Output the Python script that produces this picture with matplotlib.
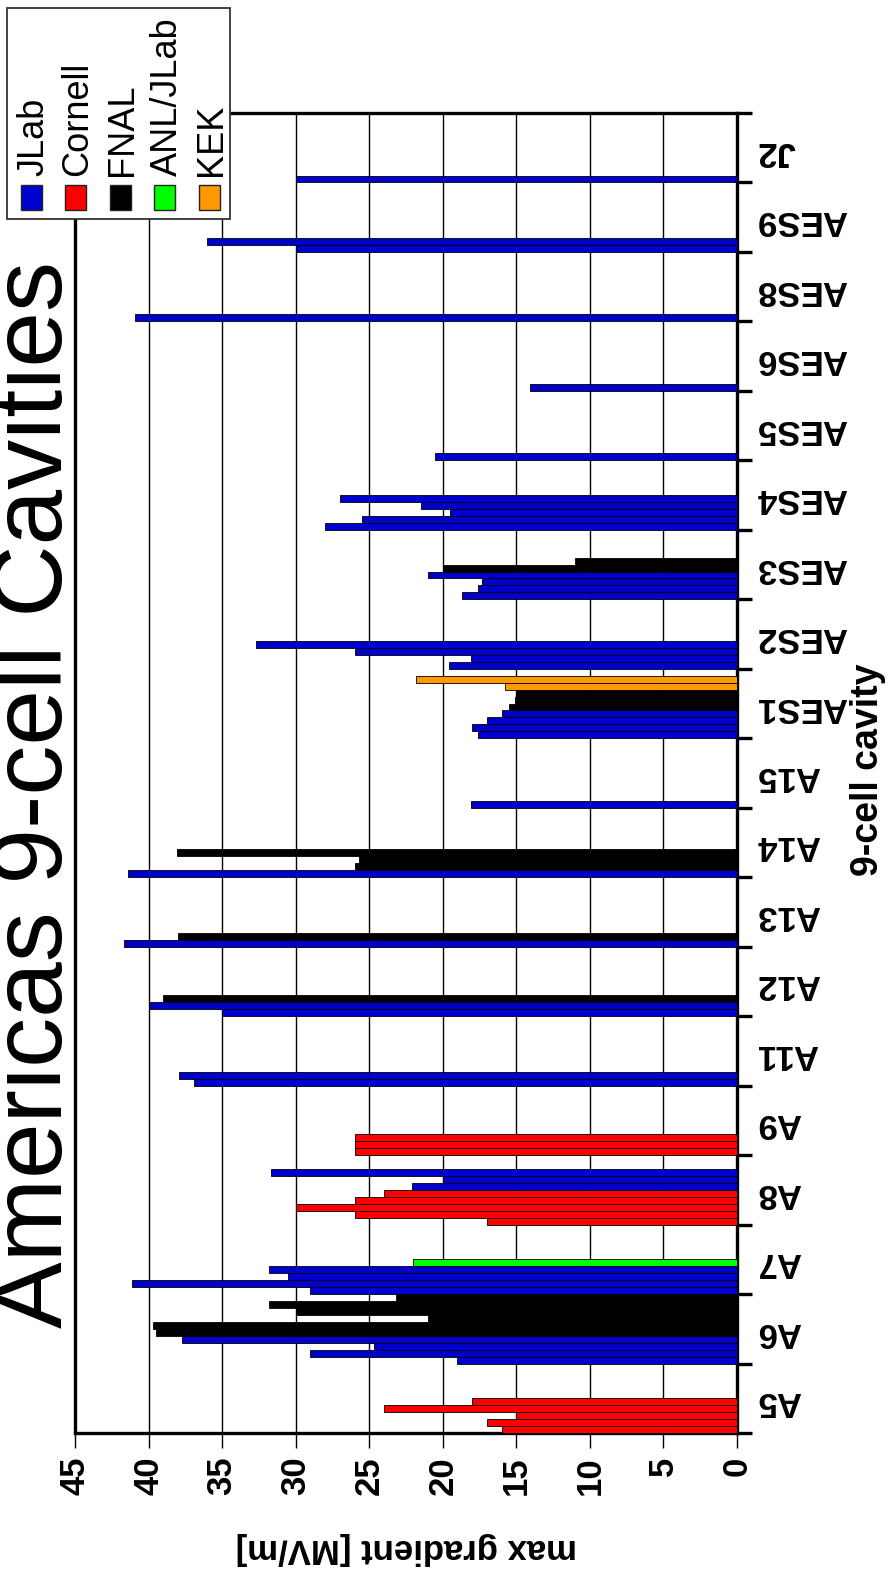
import matplotlib
matplotlib.use("Agg")
import matplotlib.pyplot as plt
from matplotlib.patches import Rectangle
import numpy as np

plt.rcParams['font.family'] = ['Liberation Sans', 'DejaVu Sans']

# ---------------- data ----------------
categories = ["A5", "A6", "A7", "A8", "A9", "A11", "A12", "A13", "A14", "A15",
              "AES1", "AES2", "AES3", "AES4", "AES5", "AES6", "AES8", "AES9", "J2"]

# max gradient [MV/m] for each test, in slot order (bottom -> top within category)
A5 = [16.0, 17.0, 15.0, 24.0, 18.0]
A6 = [19.0, 29.0, 24.7, 37.7, 39.5, 39.7, 21.0, 30.0, 31.8, 23.2]
A7 = [29.0, 41.1, 30.5, 31.8, 22.0]
A8 = [17.0, 26.0, 30.0, 26.0, 24.0, 22.1, 20.0, 31.7]
A9 = [26.0, 26.0, 26.0]
A11 = [36.9, 37.9]
A12 = [35.0, 39.9, 39.0]
A13 = [41.7, 38.0]
A14 = [41.4, 26.0, 25.7, 38.1]
A15 = [18.1]
AES1 = [17.6, 18.0, 17.0, 16.0, 15.5, 15.1, 15.0, 15.8, 21.8]
AES2 = [19.6, 18.1, 26.0, 32.7]
AES3 = [18.7, 17.6, 17.3, 21.0, 20.0, 11.0]
AES4 = [28.0, 25.5, 19.5, 21.5, 27.0]
AES5 = [20.5]
AES6 = [14.1]
AES8 = [40.9]
AES9 = [30.0, 36.0]
J2 = [30.0]

# lab of each test: J=JLab, C=Cornell, F=FNAL, A=ANL/JLab, K=KEK
A5_lab = "CCCCC"
A6_lab = "JJJJFFFFFF"
A7_lab = "JJJJA"
A8_lab = "CCCCCJJJ"
A9_lab = "CCC"
A11_lab = "JJ"
A12_lab = "JJF"
A13_lab = "JF"
A14_lab = "JFFF"
A15_lab = "J"
AES1_lab = "JJJJFFFKK"
AES2_lab = "JJJJ"
AES3_lab = "JJJJFF"
AES4_lab = "JJJJJ"
AES5_lab = "J"
AES6_lab = "J"
AES8_lab = "J"
AES9_lab = "JJ"
J2_lab = "J"

lab_codes = ["J", "C", "F", "A", "K"]
lab_names = ["JLab", "Cornell", "FNAL", "ANL/JLab", "KEK"]
lab_colors = ["#0000CC", "#FF0000", "#000000", "#00FF00", "#FF9900"]

value_ticks = [0, 5, 10, 15, 20, 25, 30, 35, 40, 45]

cavity_values = [A5, A6, A7, A8, A9, A11, A12, A13, A14, A15,
                 AES1, AES2, AES3, AES4, AES5, AES6, AES8, AES9, J2]
cavity_labs = [A5_lab, A6_lab, A7_lab, A8_lab, A9_lab, A11_lab, A12_lab, A13_lab,
               A14_lab, A15_lab, AES1_lab, AES2_lab, AES3_lab, AES4_lab, AES5_lab,
               AES6_lab, AES8_lab, AES9_lab, J2_lab]

SLOTS = 10
color_of = dict(zip(lab_codes, lab_colors))

# ---------------- figure ----------------
W, H = 888, 1576
fig = plt.figure(figsize=(W / 100, H / 100), dpi=100)
fig.patch.set_facecolor("white")

def fx(px):
    return px / W

def fy(py):
    return 1 - py / H

ax_l, ax_r, ax_t, ax_b = 75, 737, 113, 1433
ax = fig.add_axes([fx(ax_l), fy(ax_b), fx(ax_r - ax_l), (ax_b - ax_t) / H])

for i, (vals, labs) in enumerate(zip(cavity_values, cavity_labs)):
    ys = i + (np.arange(len(vals)) + 0.5) / SLOTS
    cols = [color_of[c] for c in labs]
    ax.barh(ys, vals, height=1.0 / SLOTS, color=cols, edgecolor="black",
            linewidth=0.6, zorder=3)

ax.set_xlim(45, 0)
ax.set_ylim(0, len(categories))

ax.set_xticks(value_ticks)
ax.set_xticklabels([str(v) for v in value_ticks], fontsize=25, fontweight="bold",
                   rotation=90)
ax.tick_params(axis="x", direction="out", length=11, width=1.0, pad=6, color="black")
ax.grid(axis="x", color="black", linewidth=1.0, zorder=0)
ax.set_axisbelow(True)

ax.yaxis.tick_right()
ax.set_yticks(np.arange(len(categories) + 1))
ax.set_yticklabels([])
ax.tick_params(axis="y", which="major", direction="out", length=11, width=2.4)
ax.set_yticks(np.arange(len(categories)) + 0.5, minor=True)
ax.set_yticklabels(categories, minor=True, fontsize=25, fontweight="bold", rotation=180)
ax.tick_params(axis="y", which="minor", length=0, pad=14)

for s in ax.spines.values():
    s.set_linewidth(2.4)

# axis titles
fig.text(fx(406), fy(1549), "max gradient [MV/m]", rotation=180, ha="center",
         va="center", fontsize=25, fontweight="bold")
fig.text(fx(878), fy(770), "9-cell cavity", rotation=90, ha="center",
         va="baseline", rotation_mode="anchor", fontsize=27, fontweight="bold")

# title (partly off the left edge, as in the original slide)
fig.text(fx(62), fy(795), "Americas 9-cell Cavities", rotation=90, ha="center",
         va="baseline", rotation_mode="anchor", fontsize=72)

# legend (rotated layout)
box = Rectangle((fx(7), fy(219)), fx(223), 211 / H, transform=fig.transFigure,
                facecolor="white", edgecolor="#333333", linewidth=1.3, zorder=10)
fig.add_artist(box)
col_centers = [31, 75.5, 120, 164.5, 209]
for cx, name, colr in zip(col_centers, lab_names, lab_colors):
    sq = Rectangle((fx(cx - 10.5), fy(210)), fx(21), 25 / H, transform=fig.transFigure,
                   facecolor=colr, edgecolor="#222222", linewidth=1.0, zorder=11)
    fig.add_artist(sq)
    fig.text(fx(cx + 12), fy(176), name, rotation=90, ha="left", va="baseline",
             rotation_mode="anchor", fontsize=26, zorder=12)

fig.savefig("out.png", dpi=100, facecolor="white")
